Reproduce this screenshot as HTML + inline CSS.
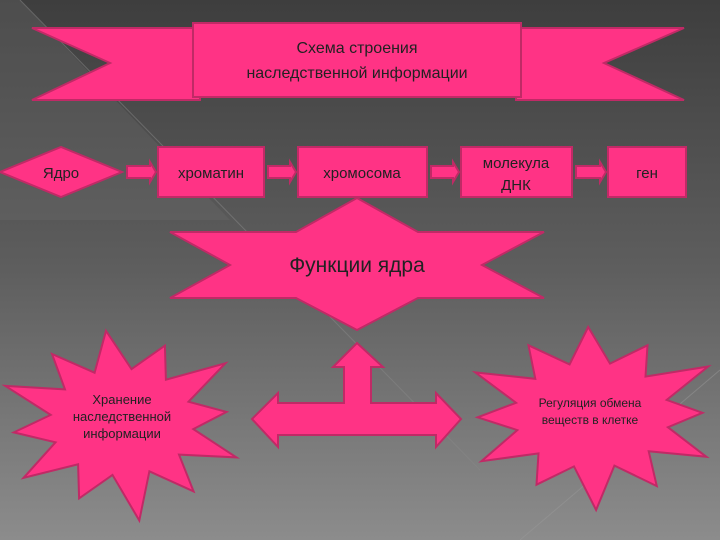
<!DOCTYPE html>
<html><head><meta charset="utf-8"><style>
html,body{margin:0;padding:0;width:720px;height:540px;overflow:hidden}
svg{display:block}
text{font-family:"Liberation Sans","DejaVu Sans",sans-serif;fill:#222}
</style></head><body>
<svg width="720" height="540" viewBox="0 0 720 540" xmlns="http://www.w3.org/2000/svg">
<defs>
<linearGradient id="bg" x1="0" y1="0" x2="0" y2="1">
<stop offset="0" stop-color="#3e3e3e"/><stop offset="0.5" stop-color="#5e5e5e"/><stop offset="1" stop-color="#8c8c8c"/>
</linearGradient>
</defs>
<rect width="720" height="540" fill="url(#bg)"/>
<polygon points="0,0 20,0 230,220 0,220" fill="#6a6a6a" opacity="0.35"/>
<line x1="20" y1="0" x2="480" y2="470" stroke="#888" stroke-width="1" opacity="0.5"/>
<line x1="520" y1="540" x2="720" y2="370" stroke="#999" stroke-width="1" opacity="0.5"/>
<g fill="#ff3385" stroke="#c02a66" stroke-width="2">
<polygon points="32,28 200,28 200,100 32,100 110,63"/>
<polygon points="684,28 516,28 516,100 684,100 604,63"/>
<rect x="193" y="23" width="328" height="74"/>
<polygon points="0,172 61,147 122,172 61,197"/>
<rect x="158" y="147" width="106" height="50"/>
<rect x="298" y="147" width="129" height="50"/>
<rect x="461" y="147" width="111" height="50"/>
<rect x="608" y="147" width="78" height="50"/>
<polygon points="127,166 150,166 150,162 156,172 150,182 150,178 127,178"/>
<polygon points="268,166 290,166 290,162 296,172 290,182 290,178 268,178"/>
<polygon points="431,166 453,166 453,162 459,172 453,182 453,178 431,178"/>
<polygon points="576,166 600,166 600,162 606,172 600,182 600,178 576,178"/>
<polygon points="357,198 418,232 544,232 482,265 544,298 418,298 357,330 296,298 170,298 230,265 170,232 296,232"/>
<polygon points="357,343 383,367 371,367 371,403 436,403 436,393 461,419 436,447 436,435 278,435 278,447 252,419 278,393 278,403 344,403 344,367 333,367"/>
<polygon id="s1"/>
<polygon id="s2"/>
</g>
<text x="357" y="53" font-size="16" text-anchor="middle">Схема строения</text>
<text x="357" y="78" font-size="16" text-anchor="middle">наследственной информации</text>
<text x="61" y="178" font-size="15" text-anchor="middle">Ядро</text>
<text x="211" y="178" font-size="15" text-anchor="middle">хроматин</text>
<text x="362" y="178" font-size="15" text-anchor="middle">хромосома</text>
<text x="516" y="168" font-size="15" text-anchor="middle">молекула</text>
<text x="516" y="190" font-size="15" text-anchor="middle">ДНК</text>
<text x="647" y="178" font-size="15" text-anchor="middle">ген</text>
<text x="357" y="272" font-size="21" text-anchor="middle">Функции ядра</text>
<text x="122" y="404" font-size="13" text-anchor="middle">Хранение</text>
<text x="122" y="421" font-size="13" text-anchor="middle">наследственной</text>
<text x="122" y="438" font-size="13" text-anchor="middle">информации</text>
<text x="590" y="407" font-size="12" text-anchor="middle">Регуляция обмена</text>
<text x="590" y="424" font-size="12" text-anchor="middle">веществ в клетке</text>
</svg>
<script>
function star(id,cx,cy,rx,ry,n,inner,rot){
 var p=[];var jit=[1,0.9,1.05,0.85,1,0.95,1.08,0.9,1,0.88,1.02,0.93,1,0.9];
 for(var i=0;i<n*2;i++){var a=rot+Math.PI*i/n;var r=(i%2==0)?jit[(i/2)%jit.length]:inner;
 p.push((cx+Math.cos(a)*rx*r).toFixed(1)+','+(cy+Math.sin(a)*ry*r).toFixed(1));}
 document.getElementById(id).setAttribute('points',p.join(' '));
}
star('s1',122,422,124,92,12,0.58,-1.7);
star('s2',592,415,130,88,12,0.6,-1.6);
</script>
</body></html>
